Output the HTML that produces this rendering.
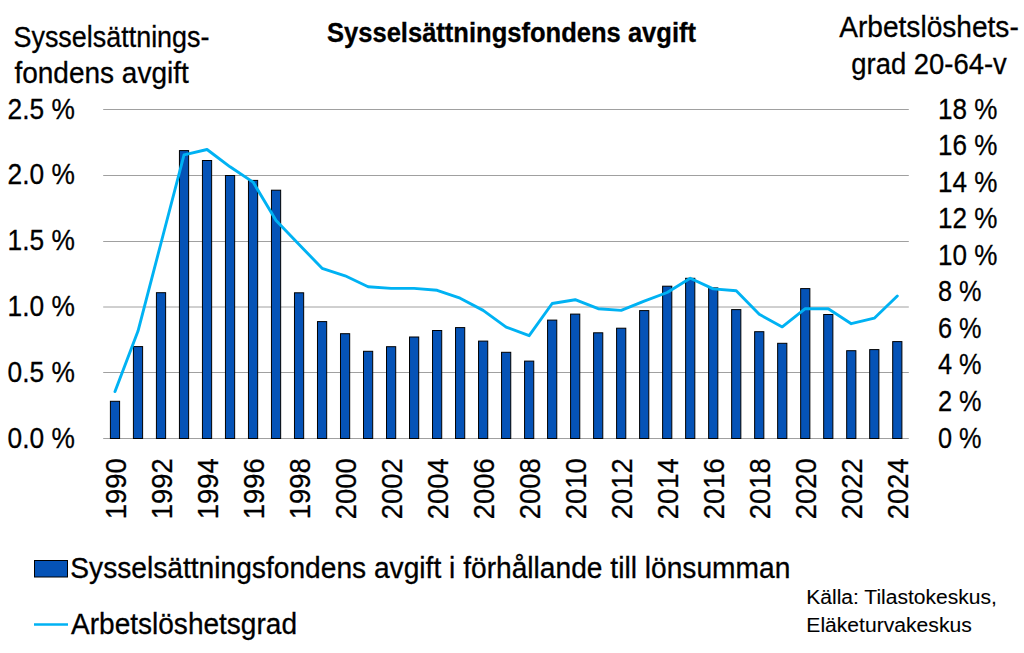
<!DOCTYPE html><html><head><meta charset="utf-8"><style>html,body{margin:0;padding:0;background:#fff;}svg{display:block;}text{font-family:"Liberation Sans", sans-serif;fill:#000;stroke:#000;stroke-width:0.3px;}</style></head><body>
<svg width="1024" height="653" viewBox="0 0 1024 653">
<rect width="1024" height="653" fill="#fff"/>
<line x1="103.2" y1="109.50" x2="908.8" y2="109.50" stroke="#a0a0a0" stroke-width="1"/>
<line x1="103.2" y1="175.50" x2="908.8" y2="175.50" stroke="#a0a0a0" stroke-width="1"/>
<line x1="103.2" y1="241.50" x2="908.8" y2="241.50" stroke="#a0a0a0" stroke-width="1"/>
<line x1="103.2" y1="307.00" x2="908.8" y2="307.00" stroke="#a0a0a0" stroke-width="1"/>
<line x1="103.2" y1="372.50" x2="908.8" y2="372.50" stroke="#a0a0a0" stroke-width="1"/>
<line x1="103.2" y1="438.50" x2="908.8" y2="438.50" stroke="#a0a0a0" stroke-width="1"/>
<rect x="110.40" y="401.30" width="9.2" height="37.20" fill="#0553b7" stroke="#000" stroke-width="1"/>
<rect x="133.41" y="346.60" width="9.2" height="91.90" fill="#0553b7" stroke="#000" stroke-width="1"/>
<rect x="156.42" y="292.70" width="9.2" height="145.80" fill="#0553b7" stroke="#000" stroke-width="1"/>
<rect x="179.43" y="150.60" width="9.2" height="287.90" fill="#0553b7" stroke="#000" stroke-width="1"/>
<rect x="202.44" y="160.50" width="9.2" height="278.00" fill="#0553b7" stroke="#000" stroke-width="1"/>
<rect x="225.45" y="175.50" width="9.2" height="263.00" fill="#0553b7" stroke="#000" stroke-width="1"/>
<rect x="248.46" y="180.40" width="9.2" height="258.10" fill="#0553b7" stroke="#000" stroke-width="1"/>
<rect x="271.46" y="190.20" width="9.2" height="248.30" fill="#0553b7" stroke="#000" stroke-width="1"/>
<rect x="294.47" y="292.80" width="9.2" height="145.70" fill="#0553b7" stroke="#000" stroke-width="1"/>
<rect x="317.48" y="321.60" width="9.2" height="116.90" fill="#0553b7" stroke="#000" stroke-width="1"/>
<rect x="340.49" y="333.70" width="9.2" height="104.80" fill="#0553b7" stroke="#000" stroke-width="1"/>
<rect x="363.50" y="351.30" width="9.2" height="87.20" fill="#0553b7" stroke="#000" stroke-width="1"/>
<rect x="386.51" y="346.70" width="9.2" height="91.80" fill="#0553b7" stroke="#000" stroke-width="1"/>
<rect x="409.52" y="337.00" width="9.2" height="101.50" fill="#0553b7" stroke="#000" stroke-width="1"/>
<rect x="432.52" y="330.50" width="9.2" height="108.00" fill="#0553b7" stroke="#000" stroke-width="1"/>
<rect x="455.53" y="327.60" width="9.2" height="110.90" fill="#0553b7" stroke="#000" stroke-width="1"/>
<rect x="478.54" y="341.10" width="9.2" height="97.40" fill="#0553b7" stroke="#000" stroke-width="1"/>
<rect x="501.55" y="352.30" width="9.2" height="86.20" fill="#0553b7" stroke="#000" stroke-width="1"/>
<rect x="524.56" y="361.10" width="9.2" height="77.40" fill="#0553b7" stroke="#000" stroke-width="1"/>
<rect x="547.57" y="320.10" width="9.2" height="118.40" fill="#0553b7" stroke="#000" stroke-width="1"/>
<rect x="570.58" y="314.10" width="9.2" height="124.40" fill="#0553b7" stroke="#000" stroke-width="1"/>
<rect x="593.58" y="332.80" width="9.2" height="105.70" fill="#0553b7" stroke="#000" stroke-width="1"/>
<rect x="616.59" y="328.20" width="9.2" height="110.30" fill="#0553b7" stroke="#000" stroke-width="1"/>
<rect x="639.60" y="310.60" width="9.2" height="127.90" fill="#0553b7" stroke="#000" stroke-width="1"/>
<rect x="662.61" y="286.20" width="9.2" height="152.30" fill="#0553b7" stroke="#000" stroke-width="1"/>
<rect x="685.62" y="278.30" width="9.2" height="160.20" fill="#0553b7" stroke="#000" stroke-width="1"/>
<rect x="708.63" y="287.90" width="9.2" height="150.60" fill="#0553b7" stroke="#000" stroke-width="1"/>
<rect x="731.64" y="309.60" width="9.2" height="128.90" fill="#0553b7" stroke="#000" stroke-width="1"/>
<rect x="754.64" y="331.70" width="9.2" height="106.80" fill="#0553b7" stroke="#000" stroke-width="1"/>
<rect x="777.65" y="343.30" width="9.2" height="95.20" fill="#0553b7" stroke="#000" stroke-width="1"/>
<rect x="800.66" y="288.60" width="9.2" height="149.90" fill="#0553b7" stroke="#000" stroke-width="1"/>
<rect x="823.67" y="314.50" width="9.2" height="124.00" fill="#0553b7" stroke="#000" stroke-width="1"/>
<rect x="846.68" y="350.70" width="9.2" height="87.80" fill="#0553b7" stroke="#000" stroke-width="1"/>
<rect x="869.69" y="349.60" width="9.2" height="88.90" fill="#0553b7" stroke="#000" stroke-width="1"/>
<rect x="892.70" y="341.60" width="9.2" height="96.90" fill="#0553b7" stroke="#000" stroke-width="1"/>
<polyline points="115.00,391.60 138.01,331.10 161.02,243.00 184.03,154.90 207.04,149.50 230.05,166.80 253.06,182.10 276.06,220.60 299.07,244.50 322.08,268.30 345.09,275.80 368.10,286.80 391.11,288.40 414.12,288.40 437.12,290.30 460.13,298.20 483.14,310.40 506.15,327.10 529.16,335.70 552.17,303.50 575.18,299.70 598.18,308.70 621.19,310.40 644.20,301.10 667.21,292.50 690.22,278.20 713.23,288.90 736.24,290.80 759.24,314.30 782.25,326.90 805.26,308.70 828.27,308.70 851.28,323.70 874.29,318.20 897.30,296.00" fill="none" stroke="#00b2f3" stroke-width="2.9" stroke-linejoin="round" stroke-linecap="round"/>
<text x="327" y="42.2" font-size="27" text-anchor="start" font-weight="bold" textLength="369" lengthAdjust="spacingAndGlyphs">Sysselsättningsfondens avgift</text>
<text x="13.5" y="46.6" font-size="29" text-anchor="start" font-weight="normal" textLength="196" lengthAdjust="spacingAndGlyphs">Sysselsättnings-</text>
<text x="14.4" y="83.3" font-size="29" text-anchor="start" font-weight="normal" textLength="174.4" lengthAdjust="spacingAndGlyphs">fondens avgift</text>
<text x="929" y="36.9" font-size="29" text-anchor="middle" font-weight="normal" textLength="179.5" lengthAdjust="spacingAndGlyphs">Arbetslöshets-</text>
<text x="929" y="73.7" font-size="29" text-anchor="middle" font-weight="normal" textLength="155.5" lengthAdjust="spacingAndGlyphs">grad 20-64-v</text>
<text x="74.8" y="118.60" font-size="29" text-anchor="end" font-weight="normal" textLength="67.3" lengthAdjust="spacingAndGlyphs">2.5 %</text>
<text x="74.8" y="184.40" font-size="29" text-anchor="end" font-weight="normal" textLength="67.3" lengthAdjust="spacingAndGlyphs">2.0 %</text>
<text x="74.8" y="250.20" font-size="29" text-anchor="end" font-weight="normal" textLength="67.3" lengthAdjust="spacingAndGlyphs">1.5 %</text>
<text x="74.8" y="316.00" font-size="29" text-anchor="end" font-weight="normal" textLength="67.3" lengthAdjust="spacingAndGlyphs">1.0 %</text>
<text x="74.8" y="381.80" font-size="29" text-anchor="end" font-weight="normal" textLength="67.3" lengthAdjust="spacingAndGlyphs">0.5 %</text>
<text x="74.8" y="447.60" font-size="29" text-anchor="end" font-weight="normal" textLength="67.3" lengthAdjust="spacingAndGlyphs">0.0 %</text>
<text x="938" y="118.60" font-size="29" text-anchor="start" font-weight="normal" textLength="59.4" lengthAdjust="spacingAndGlyphs">18 %</text>
<text x="938" y="155.16" font-size="29" text-anchor="start" font-weight="normal" textLength="59.4" lengthAdjust="spacingAndGlyphs">16 %</text>
<text x="938" y="191.71" font-size="29" text-anchor="start" font-weight="normal" textLength="59.4" lengthAdjust="spacingAndGlyphs">14 %</text>
<text x="938" y="228.27" font-size="29" text-anchor="start" font-weight="normal" textLength="59.4" lengthAdjust="spacingAndGlyphs">12 %</text>
<text x="938" y="264.82" font-size="29" text-anchor="start" font-weight="normal" textLength="59.4" lengthAdjust="spacingAndGlyphs">10 %</text>
<text x="938" y="301.38" font-size="29" text-anchor="start" font-weight="normal" textLength="43.6" lengthAdjust="spacingAndGlyphs">8 %</text>
<text x="938" y="337.93" font-size="29" text-anchor="start" font-weight="normal" textLength="43.6" lengthAdjust="spacingAndGlyphs">6 %</text>
<text x="938" y="374.49" font-size="29" text-anchor="start" font-weight="normal" textLength="43.6" lengthAdjust="spacingAndGlyphs">4 %</text>
<text x="938" y="411.04" font-size="29" text-anchor="start" font-weight="normal" textLength="43.6" lengthAdjust="spacingAndGlyphs">2 %</text>
<text x="938" y="447.60" font-size="29" text-anchor="start" font-weight="normal" textLength="43.6" lengthAdjust="spacingAndGlyphs">0 %</text>
<text transform="translate(125.90,458.2) rotate(-90)" font-size="29" text-anchor="end" textLength="61" lengthAdjust="spacingAndGlyphs">1990</text>
<text transform="translate(171.92,458.2) rotate(-90)" font-size="29" text-anchor="end" textLength="61" lengthAdjust="spacingAndGlyphs">1992</text>
<text transform="translate(217.94,458.2) rotate(-90)" font-size="29" text-anchor="end" textLength="61" lengthAdjust="spacingAndGlyphs">1994</text>
<text transform="translate(263.96,458.2) rotate(-90)" font-size="29" text-anchor="end" textLength="61" lengthAdjust="spacingAndGlyphs">1996</text>
<text transform="translate(309.97,458.2) rotate(-90)" font-size="29" text-anchor="end" textLength="61" lengthAdjust="spacingAndGlyphs">1998</text>
<text transform="translate(355.99,458.2) rotate(-90)" font-size="29" text-anchor="end" textLength="61" lengthAdjust="spacingAndGlyphs">2000</text>
<text transform="translate(402.01,458.2) rotate(-90)" font-size="29" text-anchor="end" textLength="61" lengthAdjust="spacingAndGlyphs">2002</text>
<text transform="translate(448.02,458.2) rotate(-90)" font-size="29" text-anchor="end" textLength="61" lengthAdjust="spacingAndGlyphs">2004</text>
<text transform="translate(494.04,458.2) rotate(-90)" font-size="29" text-anchor="end" textLength="61" lengthAdjust="spacingAndGlyphs">2006</text>
<text transform="translate(540.06,458.2) rotate(-90)" font-size="29" text-anchor="end" textLength="61" lengthAdjust="spacingAndGlyphs">2008</text>
<text transform="translate(586.08,458.2) rotate(-90)" font-size="29" text-anchor="end" textLength="61" lengthAdjust="spacingAndGlyphs">2010</text>
<text transform="translate(632.09,458.2) rotate(-90)" font-size="29" text-anchor="end" textLength="61" lengthAdjust="spacingAndGlyphs">2012</text>
<text transform="translate(678.11,458.2) rotate(-90)" font-size="29" text-anchor="end" textLength="61" lengthAdjust="spacingAndGlyphs">2014</text>
<text transform="translate(724.13,458.2) rotate(-90)" font-size="29" text-anchor="end" textLength="61" lengthAdjust="spacingAndGlyphs">2016</text>
<text transform="translate(770.14,458.2) rotate(-90)" font-size="29" text-anchor="end" textLength="61" lengthAdjust="spacingAndGlyphs">2018</text>
<text transform="translate(816.16,458.2) rotate(-90)" font-size="29" text-anchor="end" textLength="61" lengthAdjust="spacingAndGlyphs">2020</text>
<text transform="translate(862.18,458.2) rotate(-90)" font-size="29" text-anchor="end" textLength="61" lengthAdjust="spacingAndGlyphs">2022</text>
<text transform="translate(908.20,458.2) rotate(-90)" font-size="29" text-anchor="end" textLength="61" lengthAdjust="spacingAndGlyphs">2024</text>
<rect x="34.5" y="560.5" width="33" height="16.5" fill="#0553b7" stroke="#000" stroke-width="1"/>
<text x="70.3" y="577.6" font-size="29" text-anchor="start" font-weight="normal" textLength="720" lengthAdjust="spacingAndGlyphs">Sysselsättningsfondens avgift i förhållande till lönsumman</text>
<line x1="34" y1="624.4" x2="68" y2="624.4" stroke="#00b2f3" stroke-width="2.5"/>
<text x="71.0" y="634.2" font-size="29" text-anchor="start" font-weight="normal" textLength="226" lengthAdjust="spacingAndGlyphs">Arbetslöshetsgrad</text>
<text x="806.3" y="603.7" font-size="20" text-anchor="start" font-weight="normal" textLength="190.5" lengthAdjust="spacingAndGlyphs" style="stroke-width:0.1px">Källa: Tilastokeskus,</text>
<text x="806.3" y="631.8" font-size="20" text-anchor="start" font-weight="normal" textLength="165.5" lengthAdjust="spacingAndGlyphs" style="stroke-width:0.1px">Eläketurvakeskus</text>
</svg></body></html>
